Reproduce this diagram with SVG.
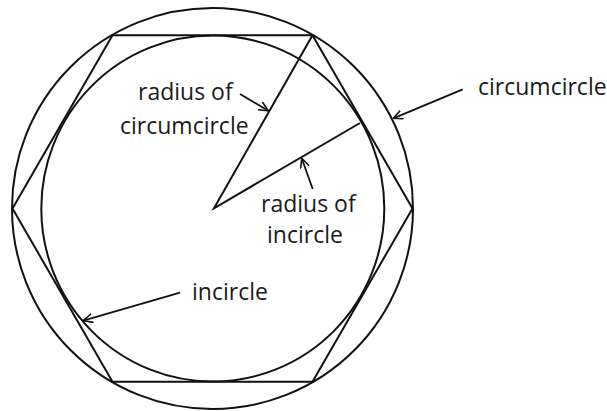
<svg xmlns="http://www.w3.org/2000/svg" width="607" height="411" viewBox="0 0 607 411">
<style>
.s{fill:none;stroke:#111;stroke-width:2}
.c{fill:none;stroke:#111;stroke-width:1.8}
.t{font-family:"Open Sans","Liberation Sans",sans-serif;font-size:23px;fill:#1a1a1a}
</style>
<defs>
<marker id="ah" viewBox="0 0 10 10" refX="9.5" refY="5" markerWidth="10" markerHeight="10" markerUnits="userSpaceOnUse" orient="auto">
<path d="M0,0.5 L9.5,5 L0,9.5" fill="none" stroke="#111" stroke-width="1.6"/>
</marker>
</defs>
<rect width="607" height="411" fill="#fff"/>
<g id="circumcircle">
<circle class="s" cx="212.5" cy="208.5" r="200.5"/>
</g>
<g id="hexagon">
<polygon class="s" points="12.5,208.5 112.5,35.3 312.5,35.3 412.5,208.5 312.5,381.7 112.5,381.7"/>
</g>
<g id="incircle">
<ellipse class="s" cx="212.8" cy="208.5" rx="171.5" ry="173"/>
</g>
<g id="radii">
<polyline class="s" points="312.5,35.3 214,208.3 360,123"/>
</g>
<g id="labels">
<text class="t" x="138" y="100">radius of</text>
<text class="t" x="120" y="134">circumcircle</text>
<text class="t" x="261" y="212">radius of</text>
<text class="t" x="267" y="243">incircle</text>
<text class="t" x="192" y="300">incircle</text>
<text class="t" x="478" y="95">circumcircle</text>
</g>
<g id="connectors">
<line class="c" x1="240" y1="94" x2="268.3" y2="110.7" marker-end="url(#ah)"/>
<line class="c" x1="462.7" y1="89.3" x2="393.3" y2="118.3" marker-end="url(#ah)"/>
<line class="c" x1="312.7" y1="189" x2="301.7" y2="158.3" marker-end="url(#ah)"/>
<line class="c" x1="180" y1="292.7" x2="83.3" y2="320.7" marker-end="url(#ah)"/>
</g>
</svg>
